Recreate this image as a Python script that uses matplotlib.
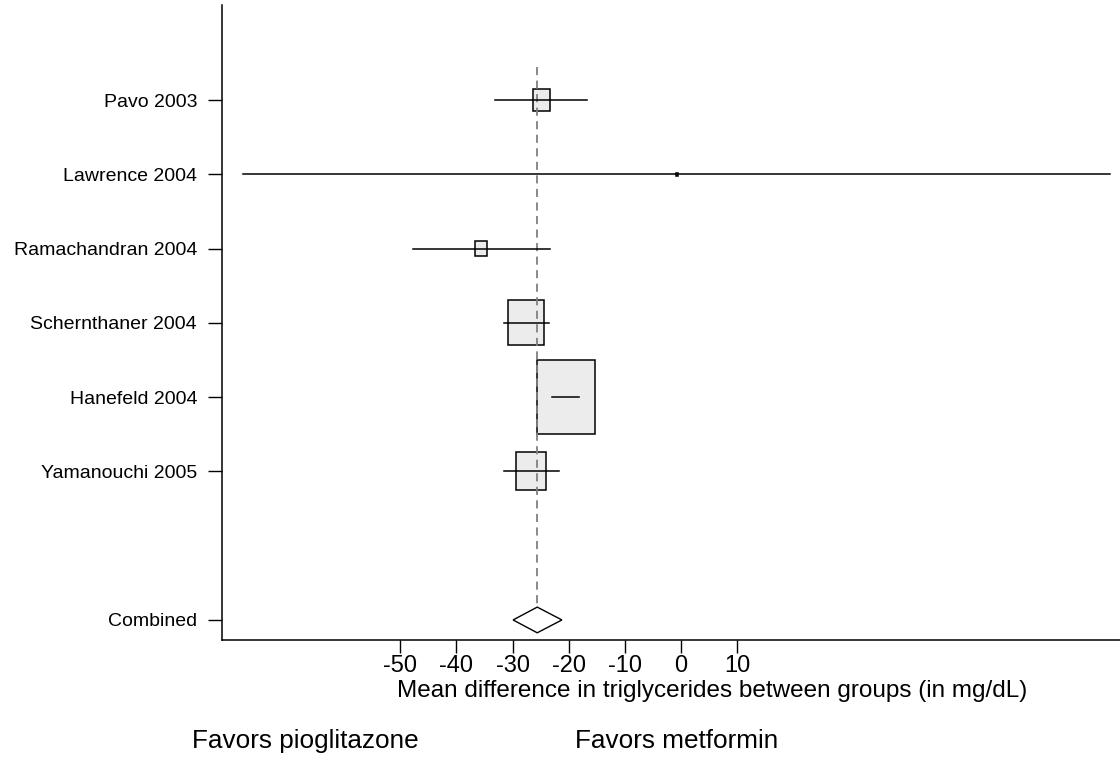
import numpy as np
import matplotlib.pyplot as plt
from matplotlib.patches import Rectangle, Polygon

plt.rcParams['font.family'] = ['Liberation Sans', 'DejaVu Sans']

studies = ["Pavo 2003", "Lawrence 2004", "Ramachandran 2004",
           "Schernthaner 2004", "Hanefeld 2004", "Yamanouchi 2005"]
mean_diff = [-24.8, -0.7, -35.6, -27.6, -20.5, -26.7]
ci_low = [-33.2, -78.0, -47.7, -31.6, -22.9, -31.5]
ci_high = [-16.7, 76.5, -23.4, -23.5, -18.1, -21.8]
weights = [5.1, 0.1, 2.5, 20.8, 56.7, 14.8]  # percent

combined = -25.6
combined_low = -29.9
combined_high = -21.2

xticks = [-50, -40, -30, -20, -10, 0, 10]

fig = plt.figure(figsize=(11.2, 7.59), dpi=100)
ax = fig.add_axes([222 / 1120, 1 - 640 / 759, 1 - 222 / 1120, (640 - 5) / 759])

ypos = np.arange(1, len(studies) + 1)
comb_y = 8

# reference line at the pooled estimate
ax.plot([combined, combined], [0.55, comb_y - 0.17], color="#808080",
        lw=1.3, ls=(0, (4.5, 3)), zorder=3)

for y, m, lo, hi, w in zip(ypos, mean_diff, ci_low, ci_high, weights):
    bw = 1.38 * np.sqrt(w)
    bh = 0.1335 * np.sqrt(w)
    ax.add_patch(Rectangle((m - bw / 2, y - bh / 2), bw, bh,
                           facecolor="#ececec", edgecolor="black", lw=1.1, zorder=2))
    ax.plot([lo, hi], [y, y], color="black", lw=1.1, zorder=4)

ax.add_patch(Polygon([[combined_low, comb_y], [combined, comb_y - 0.173],
                      [combined_high, comb_y], [combined, comb_y + 0.173]],
                     closed=True, facecolor="white", edgecolor="black", lw=1.0, zorder=4))

ax.set_xlim(-81.8, 78.3)
ax.set_ylim(8.27, -0.28)
ax.set_xticks(xticks)
ax.set_xticklabels([str(t) for t in xticks], fontsize=17)
ax.set_yticks(list(ypos) + [comb_y])
ax.set_yticklabels(studies + ["Combined"], fontsize=14)
ax.tick_params(axis="x", length=9.5, width=1, pad=1)
ax.tick_params(axis="y", length=10, width=1, pad=8)
for s in ["top", "right"]:
    ax.spines[s].set_visible(False)
for s in ["left", "bottom"]:
    ax.spines[s].set_linewidth(1.1)

fig.text(397 / 1120, 1 - 697 / 759, "Mean difference in triglycerides between groups (in mg/dL)",
         fontsize=17.5, ha="left", va="baseline")
fig.text(192 / 1120, 1 - 748 / 759, "Favors pioglitazone", fontsize=18.8, ha="left", va="baseline")
fig.text(575 / 1120, 1 - 748 / 759, "Favors metformin", fontsize=18.8, ha="left", va="baseline")

fig.savefig("out.png", dpi=100)
